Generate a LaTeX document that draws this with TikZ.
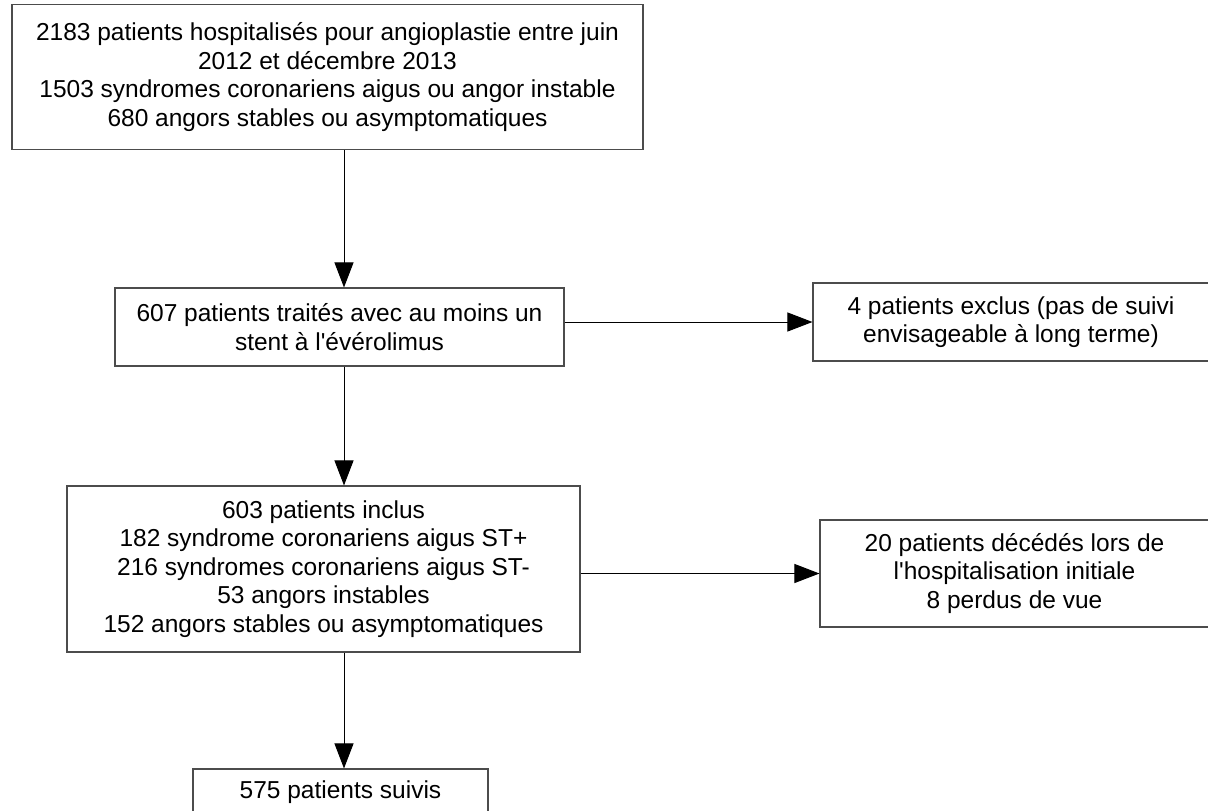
\documentclass[tikz,border=0pt]{standalone}
\usepackage{fontspec}
\newfontfamily\libsans{Liberation Sans}
\usetikzlibrary{arrows.meta}
\begin{document}
\begin{tikzpicture}[x=1pt,y=-1pt,
  box/.style={draw=black!70, line width=1.1pt, rectangle, inner sep=0pt, align=center,
    font=\libsans\fontsize{24.5}{28.5}\selectfont},
  arr/.style={draw=black, line width=1pt, -{Triangle[length=25pt,width=19pt]}}]
\useasboundingbox (0,0) rectangle (1208,811);
\fill[white] (0,0) rectangle (1208,811);
\coordinate (ax) at (344,0);
\node[box, minimum width=631pt, minimum height=145pt] (A) at (327.5,77)
  {2183 patients hospitalisés pour angioplastie entre juin\\2012 et décembre 2013\\1503 syndromes coronariens aigus ou angor instable\\680 angors stables ou asymptomatiques};
\node[box, minimum width=449pt, minimum height=78pt] (B) at (339.5,327)
  {607 patients traités avec au moins un\\stent à l'évérolimus};
\node[box, minimum width=396pt, minimum height=78pt] (C) at (1011,322)
  {4 patients exclus (pas de suivi\\envisageable à long terme)};
\node[box, minimum width=513pt, minimum height=166pt] (D) at (323.5,569)
  {603 patients inclus\\182 syndrome coronariens aigus ST+\\216 syndromes coronariens aigus ST-\\53 angors instables\\152 angors stables ou asymptomatiques};
\node[box, minimum width=389pt, minimum height=107pt] (E) at (1014.5,573.5)
  {20 patients décédés lors de\\l'hospitalisation initiale\\8 perdus de vue};
\node[box, minimum width=295pt, minimum height=46pt] (F) at (340.5,792)
  {575 patients suivis};
\draw[arr] (A.south -| ax) -- (B.north -| ax);
\draw[arr] (B.south -| ax) -- (D.north -| ax);
\draw[arr] (D.south -| ax) -- (F.north -| ax);
\draw[arr] (B.east |- C.west) -- (C.west);
\draw[arr] (D.east |- E.west) -- (E.west);
\end{tikzpicture}
\end{document}
